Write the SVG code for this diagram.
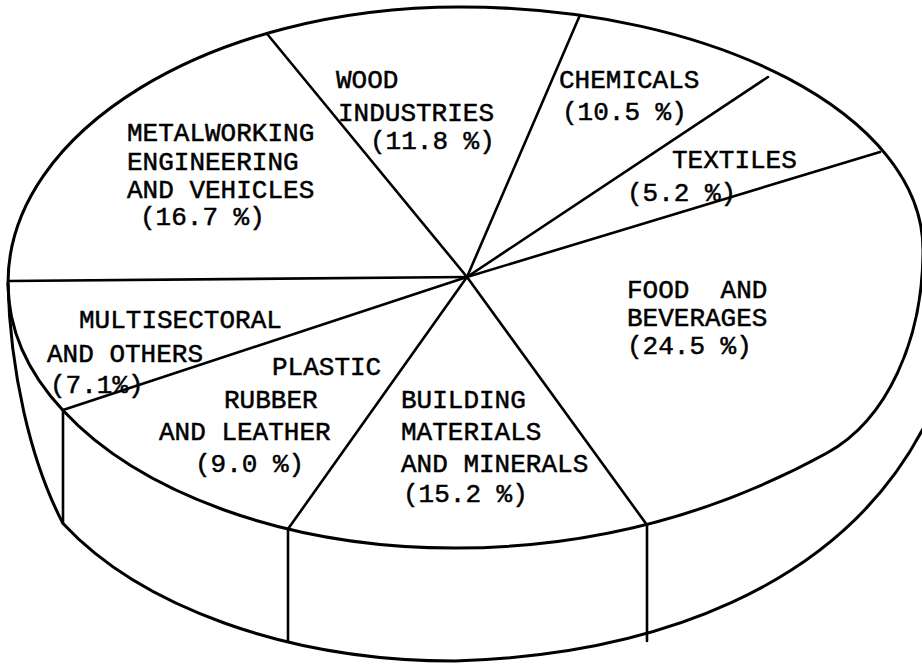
<svg xmlns="http://www.w3.org/2000/svg" width="922" height="666" viewBox="0 0 922 666">
<style>
.ln{fill:none;stroke:#000;stroke-width:2.6;stroke-linecap:round;stroke-linejoin:round}
.ol{fill:none;stroke:#000;stroke-width:3;stroke-linejoin:round}
text{font-family:"Liberation Mono","DejaVu Sans Mono",monospace;font-size:26px;fill:#000;stroke:#000;stroke-width:0.5;white-space:pre}
</style>
<rect width="922" height="666" fill="#fff"/>
<g id="pie-body">
<path class="ol" d="M8,283 C8,130.6 210.4,7 460,7 C715.7,7 923,115.8 923,250 C923,340 887,420 827,453 C727,508 605,548 455,548 C286.1,548 139.1,492.5 63.1,410.6 C28,372.8 8,329.3 8,283 Z"/>
<path class="ol" d="M8,283 C10,370 30,460 63,523.6 C139.1,605.5 286.1,661 455,661 C650,655 840,590 925,425"/>
<path class="ln" d="M63,410 L63,523 M288,529 L288,642 M647,525 L647,641"/>
</g>
<g id="connectors">
<path class="ln" d="M467,277 L268,35"/>
<path class="ln" d="M467,277 L580,15"/>
<path class="ln" d="M467,277 L768,77" stroke-width="3.2"/>
<path class="ln" d="M467,277 L880,152"/>
<path class="ln" d="M467,277 L647,525"/>
<path class="ln" d="M467,277 L288,529"/>
<path class="ln" d="M467,277 L63,410"/>
<path class="ln" d="M467,277 L9,281"/>
</g>
<g id="metalworking">
<text x="127" y="141">METALWORKING</text>
<text x="127" y="170">ENGINEERING</text>
<text x="127" y="198">AND VEHICLES</text>
<text x="140" y="225">(16.7 %)</text>
</g>
<g id="wood">
<text x="336" y="88">WOOD</text>
<text x="338" y="121">INDUSTRIES</text>
<text x="370" y="149">(11.8 %)</text>
</g>
<g id="chemicals">
<text x="559" y="88">CHEMICALS</text>
<text x="562" y="120">(10.5 %)</text>
</g>
<g id="textiles">
<text x="672" y="168">TEXTILES</text>
<text x="627" y="201">(5.2 %)</text>
</g>
<g id="food">
<text x="627" y="298">FOOD  AND</text>
<text x="627" y="326">BEVERAGES</text>
<text x="627" y="354">(24.5 %)</text>
</g>
<g id="multisectoral">
<text x="79" y="328">MULTISECTORAL</text>
<text x="47" y="362">AND OTHERS</text>
<text x="50" y="393">(7.1%)</text>
</g>
<g id="plastic">
<text x="272" y="375">PLASTIC</text>
<text x="224" y="408">RUBBER</text>
<text x="159" y="440">AND LEATHER</text>
<text x="195" y="472">(9.0 %)</text>
</g>
<g id="building">
<text x="401" y="408">BUILDING</text>
<text x="401" y="440">MATERIALS</text>
<text x="401" y="472">AND MINERALS</text>
<text x="403" y="502">(15.2 %)</text>
</g>
</svg>
